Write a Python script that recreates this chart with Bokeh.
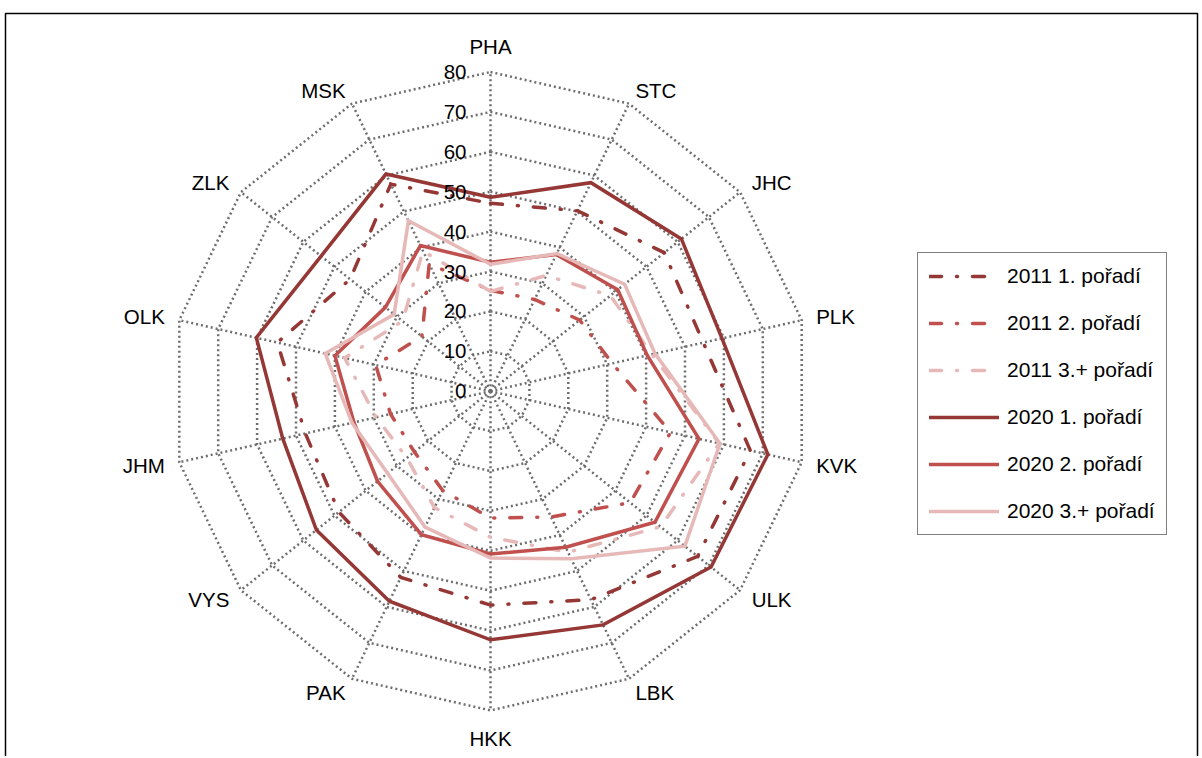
import numpy as np
from bokeh.plotting import figure
from bokeh.models import Range1d, Legend, LegendItem
from bokeh.embed import file_html
from bokeh.resources import INLINE
from bokeh.core.properties import value

# ---------------- data ----------------
categories = ["PHA", "STC", "JHC", "PLK", "KVK", "ULK", "LBK",
              "HKK", "PAK", "VYS", "JHM", "OLK", "ZLK", "MSK"]
s2011_1 = [47.1, 50.2, 55.7, 54.7, 66.8, 66.4, 58.0, 53.6, 51.8, 48.6, 47.6, 54.8, 45.0, 57.6]
s2011_2 = [25.3, 25.5, 28.6, 31.3, 46.3, 44.8, 35.0, 31.8, 27.6, 24.4, 25.7, 29.5, 22.0, 35.4]
s2011_3 = [25.0, 32.2, 38.4, 41.5, 58.8, 54.5, 44.8, 36.6, 32.4, 26.8, 29.4, 37.5, 28.2, 39.0]
s2020_1 = [48.6, 58.0, 61.2, 59.5, 71.3, 70.7, 65.0, 62.3, 58.4, 55.8, 53.4, 60.2, 54.3, 60.4]
s2020_2 = [32.3, 38.0, 40.8, 40.3, 53.6, 52.7, 43.4, 40.8, 39.9, 36.2, 35.1, 40.0, 33.7, 40.5]
s2020_3 = [31.8, 38.3, 43.0, 42.3, 59.0, 62.3, 46.6, 41.8, 37.8, 33.0, 35.6, 42.5, 30.9, 47.4]
series_names = ["2011 1. pořadí", "2011 2. pořadí", "2011 3.+ pořadí",
                "2020 1. pořadí", "2020 2. pořadí", "2020 3.+ pořadí"]
tick_values = [0, 10, 20, 30, 40, 50, 60, 70, 80]

# ---------------- layout ----------------
W, H = 1200, 756
S = 3.99                 # px per unit
CX, CY = 490.0, 390.7    # centre in canvas px
RMAX = 80
FONT = value("Liberation Sans")
FS = "20.5px"
LFS = "21px"

DARK, MED, LIGHT = "#953735", "#C0504D", "#E6B9B8"
GRID = "#6e6e6e"

p = figure(width=W, height=H, output_backend="svg", toolbar_location=None,
           x_range=Range1d(-CX / S, (W - CX) / S),
           y_range=Range1d(-(H - CY) / S, CY / S),
           x_axis_location=None, y_axis_location=None,
           min_border=0, outline_line_color=None,
           background_fill_color="white", border_fill_color="white")
p.grid.grid_line_color = None

n = len(categories)
theta = np.arange(n) * 2 * np.pi / n
sx, sy = np.sin(theta), np.cos(theta)

# rings
ring_xs, ring_ys = [], []
for r in tick_values[1:]:
    ring_xs.append(list(np.append(r * sx, r * sx[0])))
    ring_ys.append(list(np.append(r * sy, r * sy[0])))
p.multi_line(ring_xs, ring_ys, line_color=GRID, line_width=2.5, line_dash="2 3")
# spokes
p.multi_line([[0, RMAX * a] for a in sx], [[0, RMAX * b] for b in sy],
             line_color=GRID, line_width=2.5, line_dash="2 3")

# outer frame
p.quad(left=[(5 - CX) / S], right=[(1197 - CX) / S],
       top=[(CY - 13) / S], bottom=[(CY - H - 20) / S],
       fill_color=None, line_color="black", line_width=1.5)

# series
styles = [
    (s2011_1, DARK, "12 15 1 15"),
    (s2011_2, MED, "12 15 1 15"),
    (s2011_3, LIGHT, "12 15 1 15"),
    (s2020_1, DARK, "solid"),
    (s2020_2, MED, "solid"),
    (s2020_3, LIGHT, "solid"),
]
items = []
for (vals, col, dash), name in zip(styles, series_names):
    v = np.array(vals)
    xs = np.append(v * sx, v[0] * sx[0])
    ys = np.append(v * sy, v[0] * sy[0])
    r = p.line(xs, ys, line_color=col, line_width=3.5, line_dash=dash,
               line_cap="round", line_join="miter")
    items.append(LegendItem(label=name, renderers=[r]))

# tick labels
p.text(x=[-24 / S] * len(tick_values), y=tick_values, text=[str(t) for t in tick_values],
       text_align="right", text_baseline="middle", text_font=FONT,
       text_font_size=FS, text_color="black")

# category labels
RL = 334 / S
right_idx = [k for k in range(n) if 0 < k < n // 2]
left_idx = [k for k in range(n) if k > n // 2]
p.text(x=[RL * sx[k] for k in right_idx], y=[RL * sy[k] for k in right_idx],
       text=[categories[k] for k in right_idx], text_align="left", text_baseline="middle",
       text_font=FONT, text_font_size=FS, text_color="black")
p.text(x=[RL * sx[k] for k in left_idx], y=[RL * sy[k] for k in left_idx],
       text=[categories[k] for k in left_idx], text_align="right", text_baseline="middle",
       text_font=FONT, text_font_size=FS, text_color="black")
p.text(x=[0, 0], y=[344.7 / S, -347.3 / S], text=[categories[0], categories[n // 2]],
       text_align="center", text_baseline="middle",
       text_font=FONT, text_font_size=FS, text_color="black")

legend = Legend(items=items, location=(917, H - 535), orientation="vertical",
                label_text_font="Liberation Sans", label_text_font_size=LFS,
                label_text_color="black",
                glyph_width=70, glyph_height=20, label_height=20, label_standoff=8,
                spacing=23, padding=11, margin=0,
                border_line_color="black", border_line_width=1.5,
                background_fill_color="white", background_fill_alpha=1.0)
p.add_layout(legend)

open("out.html", "w").write(file_html(p, INLINE))
